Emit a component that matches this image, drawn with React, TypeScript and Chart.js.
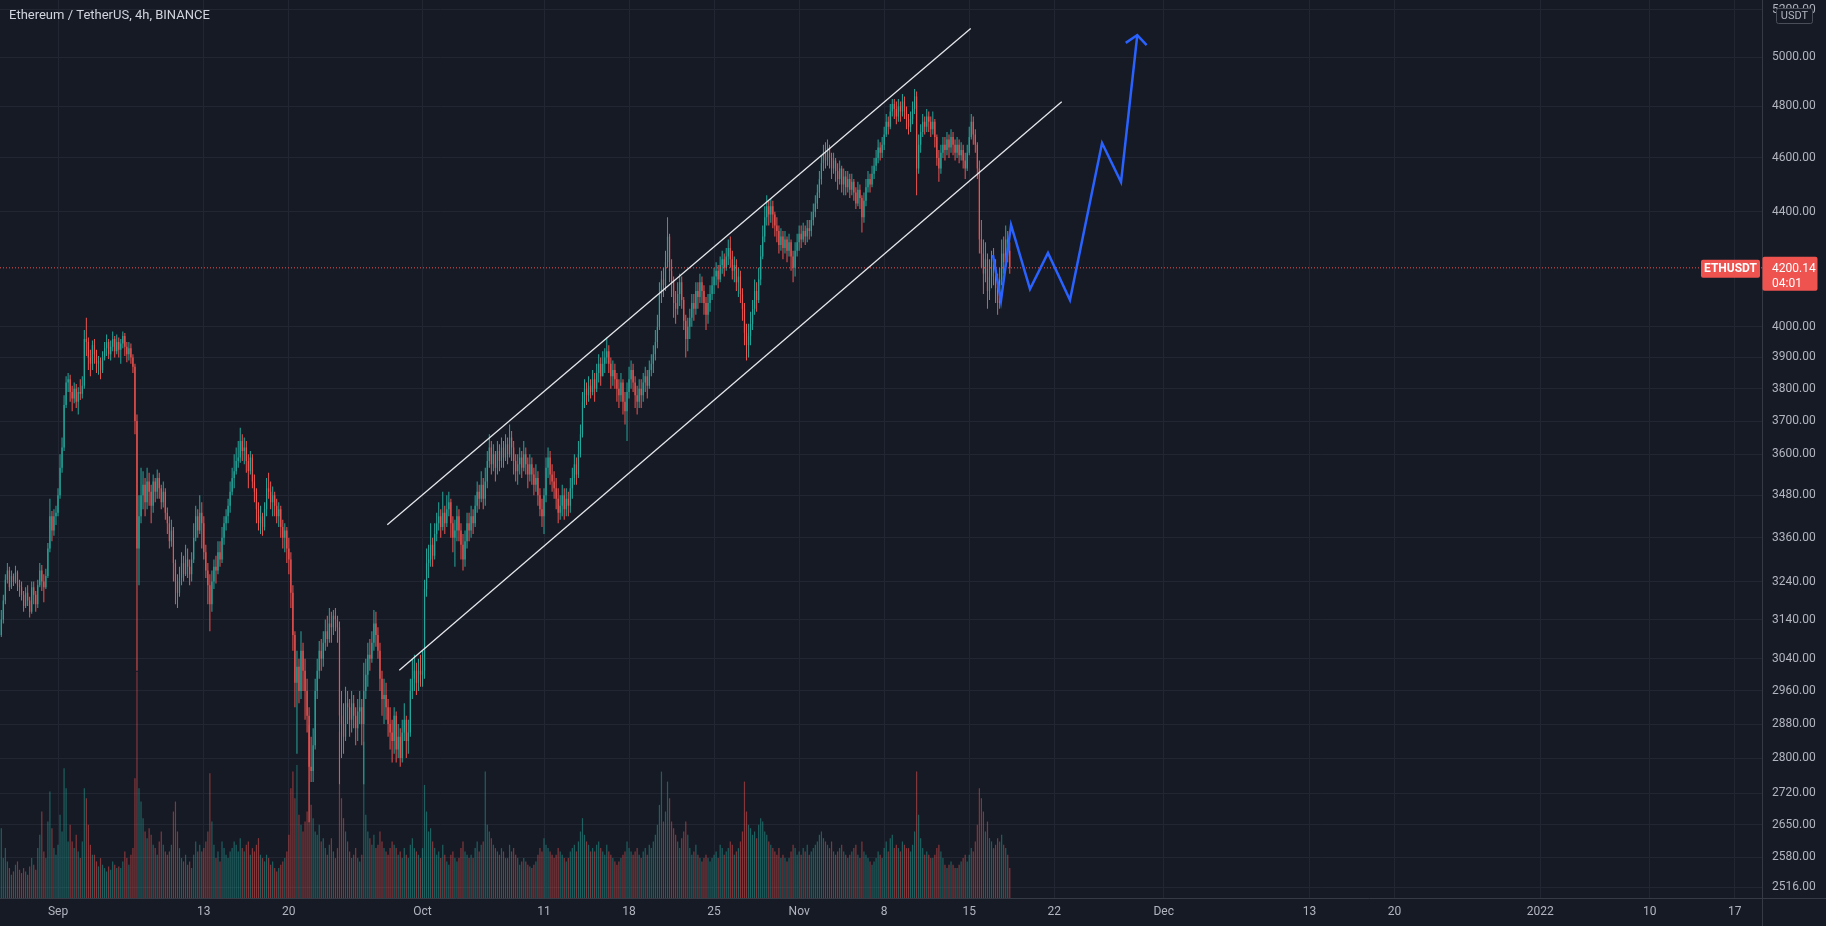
import React, { useEffect, useRef } from "react";
import { Chart, registerables } from "chart.js";

Chart.register(...registerables);

const W = 1826;
const H = 926;
const BG = "#161a25";
const GRID = "#222633";
const AXIS_LINE = "#363a45";
const TEXT = "#b2b5be";
const UP = "#26a69a";
const DOWN = "#ef5350";
const UP_VOL = "rgba(38,166,154,0.5)";
const DOWN_VOL = "rgba(239,83,80,0.5)";
const FONT = "Roboto, 'Liberation Sans', Arial, sans-serif";

const TITLE = "Ethereum / TetherUS, 4h, BINANCE";
const SYMBOL = "ETHUSDT";
const CURRENCY = "USDT";
const COUNTDOWN = "04:01";

// time axis: days from 1 Sep 2021 00:00 UTC; one candle = 4 hours
const FIRST_CANDLE_DAY = -14 / 3; // 27 Aug 08:00
const CANDLE_DAYS = 1 / 6;
const FIRST_OPEN = 3100;

const X_MIN = -4.774;
const X_MAX = 140.247;
const Y_MIN = 2494;
const Y_MAX = 5241.7;
const VOL_MAX = 2700;

const closes = [
  3140, 3190, 3245, 3270,
  3225, 3255, 3240, 3265, 3230, 3225,
  3205, 3175, 3210, 3190, 3160, 3225,
  3205, 3180, 3230, 3270, 3240, 3225,
  3255, 3330, 3420, 3380, 3420, 3430,
  3480, 3560, 3620, 3750, 3820, 3830,
  3790, 3770, 3800, 3760, 3790, 3785,
  3810, 3960, 3950, 3900, 3880, 3940,
  3910, 3880, 3890, 3860, 3900, 3930,
  3950, 3910, 3935, 3960, 3920, 3950,
  3925, 3945, 3970, 3935, 3910, 3930,
  3900, 3870, 3700, 3330, 3420, 3480,
  3510, 3460, 3520, 3490, 3450, 3520,
  3490, 3530, 3500, 3460, 3490, 3430,
  3400, 3350, 3380, 3290, 3240, 3210,
  3250, 3290, 3260, 3300, 3280, 3260,
  3300, 3360, 3420, 3380, 3430, 3400,
  3320, 3270, 3230, 3180, 3240, 3280,
  3270, 3320, 3300, 3360, 3400, 3420,
  3450, 3490, 3530, 3550, 3580, 3590,
  3640, 3610, 3620, 3580, 3550, 3590,
  3520, 3490, 3440, 3400, 3420, 3390,
  3440, 3500, 3490, 3460, 3480, 3450,
  3420, 3440, 3390, 3360, 3380, 3330,
  3300, 3210, 3100, 2980, 3020, 2960,
  3060, 3010, 2960, 2900, 2780, 2770,
  2830, 2960, 3010, 3060, 3040, 3080,
  3110, 3090, 3130, 3120, 3150, 3140,
  3120, 2900, 2880, 2850, 2930, 2920,
  2890, 2930, 2900, 2870, 2910, 2920,
  2880, 2960, 3000, 3050, 3040, 3080,
  3130, 3100, 3060, 2990, 2940, 2950,
  2920, 2880, 2860, 2840, 2900, 2820,
  2850, 2800, 2860, 2890, 2840, 2860,
  2960, 2990, 3010, 2980, 3010, 3000,
  3010, 3220, 3290, 3300, 3340, 3310,
  3370, 3400, 3420, 3390, 3430, 3400,
  3440, 3460, 3400, 3360, 3380, 3420,
  3380, 3340, 3300, 3350, 3400, 3380,
  3420, 3400, 3450, 3490, 3470, 3510,
  3470, 3520, 3580, 3620, 3570, 3600,
  3560, 3610, 3580, 3620, 3590, 3630,
  3600, 3650, 3620, 3580, 3550, 3570,
  3590, 3560, 3600, 3570, 3540, 3570,
  3540, 3510, 3530, 3480, 3440, 3420,
  3480, 3560, 3590, 3540, 3520, 3500,
  3470, 3430, 3450, 3480, 3440, 3470,
  3450, 3500, 3530, 3570, 3540, 3600,
  3660, 3760, 3800, 3780, 3810, 3790,
  3830, 3800, 3850, 3880, 3840, 3880,
  3900, 3920, 3880, 3840, 3860, 3830,
  3800, 3780, 3820, 3760, 3730, 3790,
  3830, 3860, 3820, 3780, 3760, 3800,
  3780, 3820, 3840, 3810, 3860, 3880,
  3910, 3950, 4000, 4110, 4160, 4140,
  4220, 4310, 4190, 4150, 4080, 4060,
  4110, 4150, 4090, 4020, 3960, 4000,
  4030, 4080, 4060, 4120, 4100, 4150,
  4120, 4080, 4040, 4080, 4110, 4140,
  4170, 4190, 4160, 4210, 4230, 4200,
  4240, 4270, 4230, 4190, 4210, 4150,
  4170, 4110, 4060, 3980, 3940, 3970,
  4010, 4060, 4120, 4090, 4160, 4240,
  4310, 4380, 4420, 4390, 4420, 4390,
  4350, 4330, 4280, 4310, 4270, 4300,
  4260, 4290, 4240, 4200, 4260, 4290,
  4320, 4300, 4330, 4310, 4340, 4330,
  4370, 4400, 4430, 4470, 4520, 4580,
  4620, 4590, 4640, 4600, 4560, 4590,
  4550, 4520, 4560, 4500, 4530, 4490,
  4520, 4480, 4510, 4470, 4430, 4480,
  4450, 4380, 4440, 4490, 4520, 4500,
  4540, 4570, 4600, 4640, 4620, 4650,
  4690, 4740, 4720, 4780, 4810, 4790,
  4760, 4800, 4780, 4820, 4780, 4750,
  4720, 4750, 4790, 4840, 4560, 4650,
  4700, 4740, 4720, 4760, 4740, 4710,
  4740, 4680, 4600, 4560, 4620, 4650,
  4630, 4670, 4640, 4680, 4650, 4620,
  4650, 4610, 4630, 4590, 4560, 4620,
  4680, 4740, 4690, 4650, 4560, 4300,
  4250, 4180, 4230, 4120, 4170, 4230,
  4200, 4130, 4080, 4160, 4250, 4220,
  4300, 4260, 4200.14,
];

const highs = [
  3165, 3205, 3260, 3290,
  3280, 3270, 3262, 3283, 3270, 3245,
  3240, 3215, 3225, 3230, 3200, 3240,
  3240, 3215, 3245, 3290, 3285, 3260,
  3275, 3345, 3470, 3435, 3440, 3450,
  3500, 3600, 3650, 3780, 3840, 3850,
  3845, 3810, 3820, 3815, 3805, 3830,
  3840, 3990, 4030, 3965, 3925, 3955,
  3960, 3925, 3905, 3900, 3920, 3950,
  3975, 3960, 3955, 3985, 3970, 3975,
  3965, 3960, 3985, 3980, 3950, 3950,
  3945, 3910, 3880, 3720, 3480, 3560,
  3550, 3530, 3560, 3545, 3510, 3540,
  3530, 3555, 3545, 3510, 3520, 3500,
  3445, 3420, 3410, 3390, 3300, 3260,
  3280, 3320, 3310, 3340, 3330, 3300,
  3320, 3400, 3450, 3440, 3480, 3460,
  3420, 3340, 3290, 3260, 3270, 3300,
  3310, 3350, 3350, 3390, 3420, 3440,
  3470, 3520, 3560, 3600, 3620, 3640,
  3680, 3660, 3650, 3640, 3600, 3610,
  3600, 3540, 3500, 3460, 3450, 3430,
  3460, 3530, 3545, 3520, 3505, 3490,
  3470, 3460, 3450, 3410, 3400, 3390,
  3360, 3320, 3230, 3110, 3060, 3040,
  3110, 3080, 3040, 2990, 2920, 2850,
  2870, 2990, 3040, 3085, 3090, 3110,
  3140, 3150, 3170, 3160, 3165, 3170,
  3150, 3135, 2960, 2930, 2970, 2960,
  2940, 2960, 2950, 2920, 2940, 2960,
  2940, 3030, 3040, 3080, 3090, 3110,
  3165, 3160, 3120, 3080, 3010, 2990,
  2980, 2940, 2920, 2890, 2920, 2910,
  2880, 2870, 2890, 2930, 2900, 2890,
  2990, 3040, 3050, 3030, 3040, 3050,
  3060, 3245, 3330, 3340, 3400, 3360,
  3400, 3430, 3460, 3440, 3490, 3450,
  3480, 3490, 3470, 3420, 3410, 3450,
  3440, 3400, 3370, 3380, 3430, 3430,
  3450, 3440, 3480, 3520, 3510, 3550,
  3530, 3560, 3610, 3660, 3640, 3630,
  3610, 3640, 3630, 3650, 3640, 3660,
  3650, 3690, 3670, 3640, 3600, 3600,
  3620, 3610, 3640, 3620, 3590, 3600,
  3590, 3560, 3570, 3550, 3500, 3470,
  3500, 3590, 3620, 3610, 3570, 3550,
  3530, 3500, 3480, 3510, 3500, 3500,
  3490, 3530, 3560, 3600, 3590, 3640,
  3690, 3790, 3830, 3820, 3840, 3830,
  3860, 3850, 3880, 3910, 3900, 3920,
  3930, 3965, 3940, 3900, 3890, 3880,
  3850, 3830, 3850, 3830, 3790, 3820,
  3870, 3890, 3880, 3840, 3810, 3830,
  3830, 3850, 3870, 3860, 3890, 3910,
  3940, 3990, 4040, 4150, 4190, 4200,
  4260, 4380, 4320, 4230, 4170, 4120,
  4150, 4180, 4170, 4100, 4040, 4030,
  4060, 4110, 4110, 4150, 4150, 4180,
  4170, 4140, 4100, 4110, 4140, 4170,
  4200, 4220, 4210, 4240, 4260, 4250,
  4270, 4300, 4310, 4260, 4240, 4230,
  4200, 4190, 4130, 4080, 4010, 4010,
  4050, 4090, 4160, 4150, 4200, 4280,
  4350, 4420, 4460, 4440, 4450, 4440,
  4400, 4380, 4350, 4340, 4330, 4330,
  4310, 4320, 4300, 4260, 4290, 4320,
  4350, 4350, 4360, 4350, 4370, 4370,
  4400, 4430, 4460, 4500, 4550, 4610,
  4650, 4660, 4670, 4650, 4620, 4620,
  4600, 4580, 4590, 4570, 4560, 4550,
  4550, 4540, 4540, 4520, 4490, 4510,
  4500, 4460, 4470, 4520, 4550, 4540,
  4570, 4600, 4630, 4670, 4660, 4680,
  4720, 4770, 4760, 4810, 4830, 4830,
  4820, 4830, 4820, 4850, 4840, 4800,
  4770, 4780, 4820, 4870, 4860, 4690,
  4730, 4770, 4760, 4790, 4780, 4760,
  4780, 4750, 4690, 4630, 4650, 4680,
  4680, 4700, 4690, 4710, 4700, 4670,
  4680, 4670, 4660, 4650, 4620, 4650,
  4720, 4770, 4760, 4710, 4660, 4590,
  4370, 4300, 4290, 4250, 4230, 4260,
  4270, 4230, 4180, 4200, 4300, 4310,
  4350, 4330, 4290,
];

const lows = [
  3095, 3130, 3180, 3235,
  3215, 3220, 3228, 3235, 3215, 3200,
  3190, 3160, 3170, 3175, 3145, 3155,
  3180, 3160, 3170, 3225, 3215, 3185,
  3220, 3250, 3320, 3350, 3365, 3395,
  3420, 3470, 3545, 3610, 3740, 3790,
  3760, 3730, 3755, 3740, 3720, 3765,
  3770, 3800, 3905, 3860, 3840, 3860,
  3880, 3850, 3845, 3830, 3850, 3890,
  3905, 3895, 3890, 3920, 3900, 3910,
  3900, 3880, 3930, 3905, 3885, 3890,
  3880, 3850, 3660, 3010, 3230, 3400,
  3440, 3420, 3440, 3450, 3400, 3430,
  3460, 3470, 3470, 3440, 3445, 3410,
  3370, 3330, 3335, 3240, 3180, 3170,
  3200, 3230, 3240, 3255, 3250, 3230,
  3240, 3290, 3350, 3360, 3370, 3330,
  3300, 3250, 3180, 3110, 3160, 3220,
  3235, 3260, 3280, 3290, 3340, 3380,
  3400, 3430, 3480, 3500, 3540, 3560,
  3575, 3580, 3570, 3545, 3500, 3540,
  3500, 3460, 3400, 3380, 3370, 3365,
  3380, 3420, 3470, 3440, 3420, 3420,
  3400, 3390, 3360, 3330, 3320, 3290,
  3260, 3170, 3060, 2920, 2810, 2930,
  2940, 2960, 2890, 2860, 2655, 2745,
  2745, 2820, 2940, 2990, 3010, 3020,
  3060, 3070, 3080, 3080, 3100, 3110,
  3080, 2740, 2800, 2810, 2840, 2880,
  2850, 2860, 2870, 2830, 2840, 2880,
  2830, 2740, 2940, 2970, 3010, 3030,
  3060, 3070, 3040, 2960, 2900, 2880,
  2890, 2850, 2820, 2790, 2810, 2790,
  2800, 2780, 2790, 2840, 2800, 2810,
  2850, 2940, 2960, 2950, 2960, 2970,
  2970, 2990, 3200, 3250, 3280, 3280,
  3300, 3350, 3380, 3360, 3380, 3370,
  3390, 3420, 3360, 3320, 3280, 3350,
  3350, 3300, 3270, 3280, 3330, 3350,
  3360, 3370, 3390, 3430, 3440, 3460,
  3440, 3450, 3500, 3560, 3540, 3550,
  3520, 3540, 3550, 3560, 3560, 3580,
  3570, 3590, 3580, 3540, 3520, 3510,
  3540, 3530, 3550, 3540, 3500, 3520,
  3510, 3480, 3490, 3450, 3420, 3390,
  3370, 3460, 3530, 3510, 3490, 3470,
  3440, 3400, 3410, 3420, 3410, 3420,
  3420, 3430, 3470, 3510, 3510, 3530,
  3590, 3650, 3740, 3750, 3760, 3770,
  3780, 3760, 3790, 3820, 3810, 3840,
  3850, 3880, 3850, 3800, 3810, 3800,
  3760, 3740, 3760, 3720, 3690, 3640,
  3770, 3800, 3790, 3740, 3720, 3740,
  3740, 3760, 3790, 3770, 3800, 3840,
  3850, 3890, 3930, 3990, 4080, 4100,
  4120, 4200, 4150, 4100, 4030, 4010,
  4040, 4070, 4060, 3990, 3900, 3920,
  3960, 4000, 4020, 4040, 4060, 4080,
  4080, 4040, 3990, 4010, 4050, 4090,
  4110, 4140, 4130, 4150, 4180, 4170,
  4190, 4210, 4200, 4160, 4150, 4120,
  4100, 4080, 4020, 3940, 3890, 3900,
  3940, 3990, 4040, 4050, 4080, 4140,
  4230, 4290, 4350, 4350, 4360, 4340,
  4310, 4290, 4250, 4260, 4230, 4250,
  4220, 4240, 4190, 4150, 4170, 4240,
  4260, 4270, 4290, 4280, 4290, 4300,
  4310, 4350, 4380, 4410, 4450, 4500,
  4550, 4560, 4570, 4560, 4520, 4540,
  4510, 4480, 4500, 4470, 4460, 4460,
  4470, 4450, 4460, 4440, 4410, 4420,
  4410, 4325, 4360, 4420, 4470, 4470,
  4490, 4520, 4550, 4580, 4590, 4600,
  4630, 4680, 4690, 4710, 4760, 4750,
  4730, 4740, 4740, 4760, 4750, 4710,
  4690, 4700, 4730, 4770, 4460, 4540,
  4620, 4680, 4690, 4700, 4700, 4680,
  4690, 4640, 4570, 4510, 4540, 4600,
  4590, 4610, 4600, 4620, 4610, 4590,
  4600, 4580, 4590, 4560, 4520, 4550,
  4610, 4670, 4650, 4620, 4520, 4250,
  4200, 4110, 4150, 4060, 4090, 4130,
  4140, 4080, 4040, 4060, 4140, 4180,
  4200, 4220, 4180,
];

// volume, thousand ETH per 4h candle
const volumes = [
  210, 120, 150, 110,
  90, 70, 80, 100, 110, 85,
  75, 90, 80, 70, 95, 120,
  100, 85, 150, 190, 260, 140,
  120, 230, 320, 210, 150, 130,
  160, 250, 200, 390, 330, 170,
  220, 170, 150, 190, 140, 120,
  170, 330, 300, 220, 160, 130,
  130, 110, 95, 120, 100, 90,
  80, 95, 85, 110, 100, 90,
  95, 90, 110, 140, 120, 100,
  130, 150, 360, 680, 330, 290,
  240, 200, 180, 210, 190, 160,
  150, 130, 170, 200, 160, 140,
  130, 140, 160, 260, 290, 200,
  150, 120, 110, 130, 100, 110,
  90, 130, 170, 140, 160, 140,
  150, 170, 200, 375, 230, 160,
  120, 140, 110, 170, 150, 130,
  120, 140, 150, 170, 160, 140,
  180, 150, 140, 160, 170, 130,
  150, 140, 160, 180, 130, 120,
  110, 130, 120, 100, 110, 90,
  80, 90, 100, 110, 120, 140,
  190, 330, 380, 300, 400, 250,
  220, 200, 230, 260, 520, 280,
  240, 200, 190, 220, 170, 180,
  150, 130, 160, 180, 140, 120,
  150, 500, 300, 240, 200, 170,
  140, 120, 130, 150, 120, 110,
  130, 470, 250, 200, 180, 160,
  190, 150, 160, 200, 170, 150,
  140, 130, 150, 170, 160, 150,
  130, 140, 120, 150, 130, 120,
  160, 180, 150, 140, 130, 120,
  150, 340, 260, 200, 210, 170,
  150, 130, 140, 120, 160, 130,
  110, 100, 130, 140, 120, 110,
  120, 150, 170, 140, 130, 120,
  130, 120, 150, 170, 140, 160,
  170, 380, 220, 200, 180, 160,
  150, 140, 130, 150, 140, 120,
  120, 160, 140, 150, 130, 120,
  100, 110, 120, 110, 100, 95,
  90, 100, 110, 130, 150, 140,
  180, 160, 150, 140, 130, 120,
  130, 150, 140, 130, 120, 110,
  120, 140, 150, 160, 140, 170,
  200, 240, 190, 170, 160, 140,
  150, 140, 160, 170, 150, 140,
  130, 160, 140, 130, 120, 110,
  100, 110, 120, 130, 140, 170,
  150, 140, 130, 140, 150, 130,
  120, 140, 150, 130, 160, 150,
  170, 190, 220, 280, 380, 230,
  260, 350, 300, 230, 210, 190,
  170, 150, 180, 200, 230, 190,
  150, 130, 140, 160, 130, 120,
  110, 120, 130, 120, 110, 120,
  130, 140, 120, 160, 150, 130,
  140, 150, 170, 160, 130, 140,
  150, 170, 200, 350, 260, 220,
  210, 190, 200, 180, 220, 240,
  230, 200, 190, 170, 160, 150,
  140, 130, 150, 120, 130, 120,
  110, 120, 140, 160, 150, 130,
  140, 130, 150, 140, 160, 130,
  140, 150, 160, 170, 190, 200,
  180, 170, 160, 150, 170, 140,
  130, 140, 150, 160, 140, 130,
  120, 130, 140, 150, 160, 130,
  120, 170, 140, 130, 120, 110,
  100, 110, 120, 140, 130, 120,
  150, 170, 140, 180, 190, 150,
  160, 150, 140, 170, 160, 150,
  150, 140, 160, 200, 380, 250,
  180, 150, 130, 140, 130, 120,
  120, 130, 150, 160, 140, 120,
  100, 90, 100, 110, 100, 90,
  90, 100, 110, 120, 130, 110,
  130, 150, 140, 170, 220, 330,
  300, 260, 200, 230, 180, 170,
  150, 160, 180, 170, 190, 160,
  150, 130, 90,
];

const priceTicks = [5200, 5000, 4800, 4600, 4400, 4000, 3900, 3800, 3700, 3600, 3480, 3360, 3240, 3140, 3040, 2960, 2880, 2800, 2720, 2650, 2580, 2516];
const dateTickDays = [0, 12, 19, 30, 40, 47, 54, 61, 68, 75, 82, 91, 103, 110, 122, 131, 138];
const dateTickLabels = ["Sep", "13", "20", "Oct", "11", "18", "25", "Nov", "8", "15", "22", "Dec", "13", "20", "2022", "10", "17"];

// drawings (day, price)
const upperChannelDays = [27.1, 75.12];
const upperChannelPrices = [3396, 5120];
const lowerChannelDays = [28.09, 82.61];
const lowerChannelPrices = [3011, 4819];
const projectionDays = [76.95, 77.61, 78.44, 80.0, 81.48, 83.29, 85.93, 87.49, 88.83];
const projectionPrices = [4245, 4087, 4352, 4127, 4252, 4090, 4657, 4509, 5092];
const arrowDays = [87.88, 88.83, 89.6];
const arrowPrices = [5059, 5092, 5050];

const zip = (xs: number[], ys: number[]) => xs.map((x, i) => ({ x, y: ys[i] }));

function buildCandles() {
  const n = Math.min(closes.length, highs.length, lows.length, volumes.length);
  const wicks: any[] = [];
  const bodies: any[] = [];
  const vols: any[] = [];
  const colors: string[] = [];
  const volColors: string[] = [];
  for (let i = 0; i < n; i++) {
    const o = i === 0 ? FIRST_OPEN : closes[i - 1];
    const c = closes[i];
    const x = FIRST_CANDLE_DAY + i * CANDLE_DAYS;
    const hi = Math.max(highs[i], o, c);
    const lo = Math.min(lows[i], o, c);
    const up = c >= o;
    wicks.push({ x, y: [lo, hi] });
    bodies.push({ x, y: [Math.min(o, c), Math.max(o, c)] });
    vols.push({ x, y: volumes[i] });
    colors.push(up ? UP : DOWN);
    volColors.push(up ? UP_VOL : DOWN_VOL);
  }
  return { wicks, bodies, vols, colors, volColors, last: closes[n - 1], lastUp: closes[n - 1] >= closes[n - 2] };
}

function roundRect(ctx: CanvasRenderingContext2D, x: number, y: number, w: number, h: number, r: number) {
  ctx.beginPath();
  ctx.moveTo(x + r, y);
  ctx.lineTo(x + w - r, y);
  ctx.quadraticCurveTo(x + w, y, x + w, y + r);
  ctx.lineTo(x + w, y + h - r);
  ctx.quadraticCurveTo(x + w, y + h, x + w - r, y + h);
  ctx.lineTo(x + r, y + h);
  ctx.quadraticCurveTo(x, y + h, x, y + h - r);
  ctx.lineTo(x, y + r);
  ctx.quadraticCurveTo(x, y, x + r, y);
  ctx.closePath();
}

export default function App() {
  const ref = useRef<HTMLCanvasElement>(null);

  useEffect(() => {
    document.body.style.background = BG;
    const canvas = ref.current;
    if (!canvas) return;
    const cd = buildCandles();

    const chromePlugin = {
      id: "chrome",
      beforeDraw(chart: any) {
        const { ctx, width, height } = chart;
        ctx.save();
        ctx.fillStyle = BG;
        ctx.fillRect(0, 0, width, height);
        ctx.restore();
      },
      afterDraw(chart: any) {
        const { ctx, chartArea, width, height } = chart;
        const ys = chart.scales.y;
        const right = Math.round(chartArea.right);
        const bottom = Math.round(chartArea.bottom);
        ctx.save();
        ctx.strokeStyle = AXIS_LINE;
        ctx.lineWidth = 1;
        ctx.beginPath();
        ctx.moveTo(right + 0.5, 0);
        ctx.lineTo(right + 0.5, height);
        ctx.moveTo(0, bottom + 0.5);
        ctx.lineTo(width, bottom + 0.5);
        ctx.stroke();

        // title
        ctx.font = `13px ${FONT}`;
        ctx.fillStyle = "#d1d4dc";
        ctx.textAlign = "left";
        ctx.textBaseline = "middle";
        ctx.fillText(TITLE, 9, 16);

        // currency box
        const bx = right + 14;
        const by = 8;
        roundRect(ctx, bx + 0.5, by + 0.5, 36, 15, 2);
        ctx.fillStyle = BG;
        ctx.fill();
        ctx.strokeStyle = "#4a4e59";
        ctx.stroke();
        ctx.font = `11px ${FONT}`;
        ctx.fillStyle = TEXT;
        ctx.textAlign = "center";
        ctx.fillText(CURRENCY, bx + 18.5, by + 8.5);

        // last price labels
        const py = ys.getPixelForValue(cd.last);
        const col = cd.lastUp ? UP : DOWN;
        ctx.fillStyle = col;
        roundRect(ctx, right - 61, py - 8, 59, 18, 2);
        ctx.fill();
        ctx.fillStyle = "#ffffff";
        ctx.font = `bold 12px ${FONT}`;
        ctx.textAlign = "center";
        ctx.fillText(SYMBOL, right - 31.5, py + 1);

        ctx.fillStyle = col;
        roundRect(ctx, right + 0.5, py - 11, 55, 34, 2);
        ctx.fill();
        ctx.fillStyle = "#ffffff";
        ctx.font = `12px ${FONT}`;
        ctx.textAlign = "left";
        ctx.fillText(cd.last.toFixed(2), right + 10, py + 1);
        ctx.fillText(COUNTDOWN, right + 10, py + 16);
        ctx.restore();
      },
    };

    const lineBase = { type: "line", pointRadius: 0, pointHoverRadius: 0, tension: 0, fill: false, borderJoinStyle: "miter", yAxisID: "y", xAxisID: "x" };

    const chart = new Chart(canvas, {
      type: "bar",
      data: {
        datasets: [
          { ...lineBase, label: "upper", data: zip(upperChannelDays, upperChannelPrices), borderColor: "#e6e7eb", borderWidth: 1.3, order: 0 },
          { ...lineBase, label: "lower", data: zip(lowerChannelDays, lowerChannelPrices), borderColor: "#e6e7eb", borderWidth: 1.3, order: 0 },
          { ...lineBase, label: "projection", data: zip(projectionDays, projectionPrices), borderColor: "#2962ff", borderWidth: 2.5, order: 0 },
          { ...lineBase, label: "arrow", data: zip(arrowDays, arrowPrices), borderColor: "#2962ff", borderWidth: 2.5, order: 0 },
          { ...lineBase, label: "last", data: [{ x: X_MIN, y: cd.last }, { x: X_MAX, y: cd.last }], borderColor: DOWN, borderWidth: 1, borderDash: [1, 2], order: 1 },
          { type: "bar", label: "bodies", data: cd.bodies, backgroundColor: cd.colors, barThickness: 1.2, grouped: false, inflateAmount: 0, borderWidth: 0, yAxisID: "y", order: 2 },
          { type: "bar", label: "wicks", data: cd.wicks, backgroundColor: cd.colors, barThickness: 1, grouped: false, inflateAmount: 0, borderWidth: 0, yAxisID: "y", order: 3 },
          { type: "bar", label: "volume", data: cd.vols, backgroundColor: cd.volColors, barThickness: 1.2, grouped: false, inflateAmount: 0, borderWidth: 0, yAxisID: "yv", order: 4 },
        ] as any,
      },
      options: {
        responsive: false,
        animation: false,
        devicePixelRatio: 1,
        events: [],
        layout: { padding: 0 },
        plugins: { legend: { display: false }, tooltip: { enabled: false } },
        scales: {
          x: {
            type: "linear",
            position: "bottom",
            min: X_MIN,
            max: X_MAX,
            bounds: "data",
            offset: false,
            grid: { color: GRID, drawTicks: false, offset: false, lineWidth: 1 },
            border: { display: false },
            afterBuildTicks: (s: any) => {
              s.ticks = dateTickDays.map((v) => ({ value: v }));
            },
            afterFit: (s: any) => {
              s.height = 28;
              s.paddingLeft = 0;
              s.paddingRight = 0;
              s.paddingTop = 0;
              s.paddingBottom = 0;
            },
            ticks: {
              autoSkip: false,
              maxRotation: 0,
              minRotation: 0,
              color: TEXT,
              padding: 7,
              font: { family: FONT, size: 12 },
              callback: (_v: any, i: number) => dateTickLabels[i] ?? "",
            },
          },
          y: {
            type: "logarithmic",
            position: "right",
            min: Y_MIN,
            max: Y_MAX,
            bounds: "data",
            grid: { color: GRID, drawTicks: false, lineWidth: 1 },
            border: { display: false },
            afterBuildTicks: (s: any) => {
              s.ticks = priceTicks.map((v) => ({ value: v }));
            },
            afterFit: (s: any) => {
              s.width = 64;
              s.paddingLeft = 0;
              s.paddingRight = 0;
              s.paddingTop = 0;
              s.paddingBottom = 0;
            },
            ticks: {
              autoSkip: false,
              color: TEXT,
              padding: 10,
              font: { family: FONT, size: 12 },
              callback: (v: any) => Number(v).toFixed(2),
            },
          },
          yv: {
            type: "linear",
            display: false,
            min: 0,
            max: VOL_MAX,
          },
        },
      } as any,
      plugins: [chromePlugin as any],
    });
    return () => chart.destroy();
  }, []);

  return (
    <div style={{ position: "fixed", left: 0, top: 0, width: W, height: H, background: BG }}>
      <canvas ref={ref} width={W} height={H} style={{ display: "block", width: W, height: H }} />
    </div>
  );
}
